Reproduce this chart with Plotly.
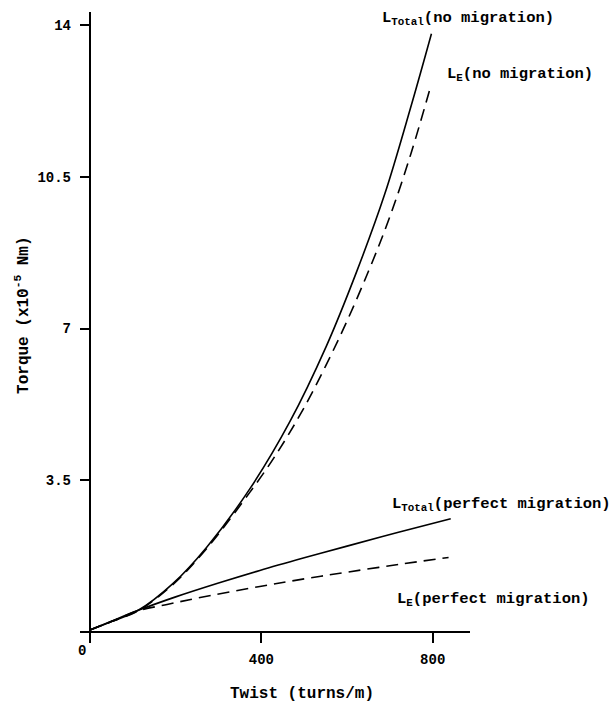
import plotly.graph_objects as go

# ---- data ----
twist_total_nomig = [0, 50, 112.7, 194, 272, 373, 466.5, 552, 622, 688, 750, 797]
torque_total_nomig = [0.046, 0.24, 0.50, 1.12, 1.95, 3.30, 4.85, 6.60, 8.30, 10.1, 12.15, 13.8]

twist_e_nomig = [0, 50, 112.7, 194, 272, 373, 431.5, 500, 583, 650, 700, 750, 795]
torque_e_nomig = [0.046, 0.24, 0.49, 1.10, 1.92, 3.22, 4.05, 5.18, 6.81, 8.32, 9.58, 11.06, 12.58]

twist_total_perf = [0, 50, 112.7, 200, 300, 396.5, 500, 600, 720, 842]
torque_total_perf = [0.046, 0.25, 0.50, 0.81, 1.13, 1.42, 1.71, 1.98, 2.30, 2.61]

twist_e_perf = [0, 50, 112.7, 180, 250, 396.5, 500, 600, 720, 837]
torque_e_perf = [0.046, 0.24, 0.49, 0.635, 0.78, 1.05, 1.225, 1.38, 1.557, 1.72]

x_ticks = [0, 400, 800]
x_ticktext = ["", "400", "800"]
y_ticks = [0, 3.5, 7, 10.5, 14]
y_ticktext = ["", "3.5", "7", "10.5", "14"]

FONT = "Liberation Mono"

fig = go.Figure()

def add_line(x, y, dash):
    fig.add_trace(go.Scatter(
        x=x, y=y, mode="lines",
        line=dict(color="black", width=1.6, dash=dash, shape="spline", smoothing=1.0),
        hoverinfo="skip", showlegend=False))

add_line(twist_total_nomig, torque_total_nomig, "solid")
add_line(twist_e_nomig, torque_e_nomig, "12px,7px")
add_line(twist_total_perf, torque_total_perf, "solid")
add_line(twist_e_perf, torque_e_perf, "12px,7px")

lab_font = dict(family=FONT, size=15.5, color="black", weight=700)
title_font = dict(family=FONT, size=16, color="black", weight=700)

labels = [
    ("L<sub>Total</sub>(no migration)", 676.5, 14.14),
    ("L<sub>E</sub>(no migration)", 828, 12.85),
    ("L<sub>Total</sub>(perfect migration)", 700, 2.93),
    ("L<sub>E</sub>(perfect migration)", 711.5, 0.74),
]
for txt, xx, yy in labels:
    fig.add_annotation(x=xx, y=yy, xref="x", yref="y", text=txt, showarrow=False,
                       xanchor="left", yanchor="middle", font=lab_font)

# origin label
fig.add_annotation(x=0, y=0, xref="x", yref="y", text="0", showarrow=False,
                   xanchor="center", yanchor="middle", xshift=-8, yshift=-19,
                   font=dict(family=FONT, size=14, color="black", weight=700))

# axis titles
fig.add_annotation(x=494, y=0, xref="x", yref="paper", text="Twist (turns/m)",
                   showarrow=False, xanchor="center", yanchor="middle", yshift=-51,
                   font=title_font)
fig.add_annotation(x=0, y=7.29, xref="paper", yref="y", text="Torque (x10<sup>-5</sup> Nm)",
                   showarrow=False, textangle=-90, xanchor="center", yanchor="middle",
                   xshift=-57, font=title_font)

axis_common = dict(showgrid=False, showline=False, zeroline=True, zerolinecolor="black",
                   zerolinewidth=1.5, ticks="inside", ticklen=10, tickwidth=1.5,
                   tickcolor="black", tickmode="array",
                   tickfont=dict(family=FONT, size=14, color="black", weight=700))

fig.update_xaxes(range=[-23.3, 887], tickvals=x_ticks, ticktext=x_ticktext,
                 ticklabelstandoff=6, **axis_common)
fig.update_yaxes(range=[-0.254, 14.3], tickvals=y_ticks, ticktext=y_ticktext,
                 ticklabelstandoff=8, **axis_common)

fig.update_layout(width=615, height=707, margin=dict(l=80, r=145, t=12, b=64, autoexpand=False),
                  paper_bgcolor="white", plot_bgcolor="white", showlegend=False)

fig.write_html("out.html")
